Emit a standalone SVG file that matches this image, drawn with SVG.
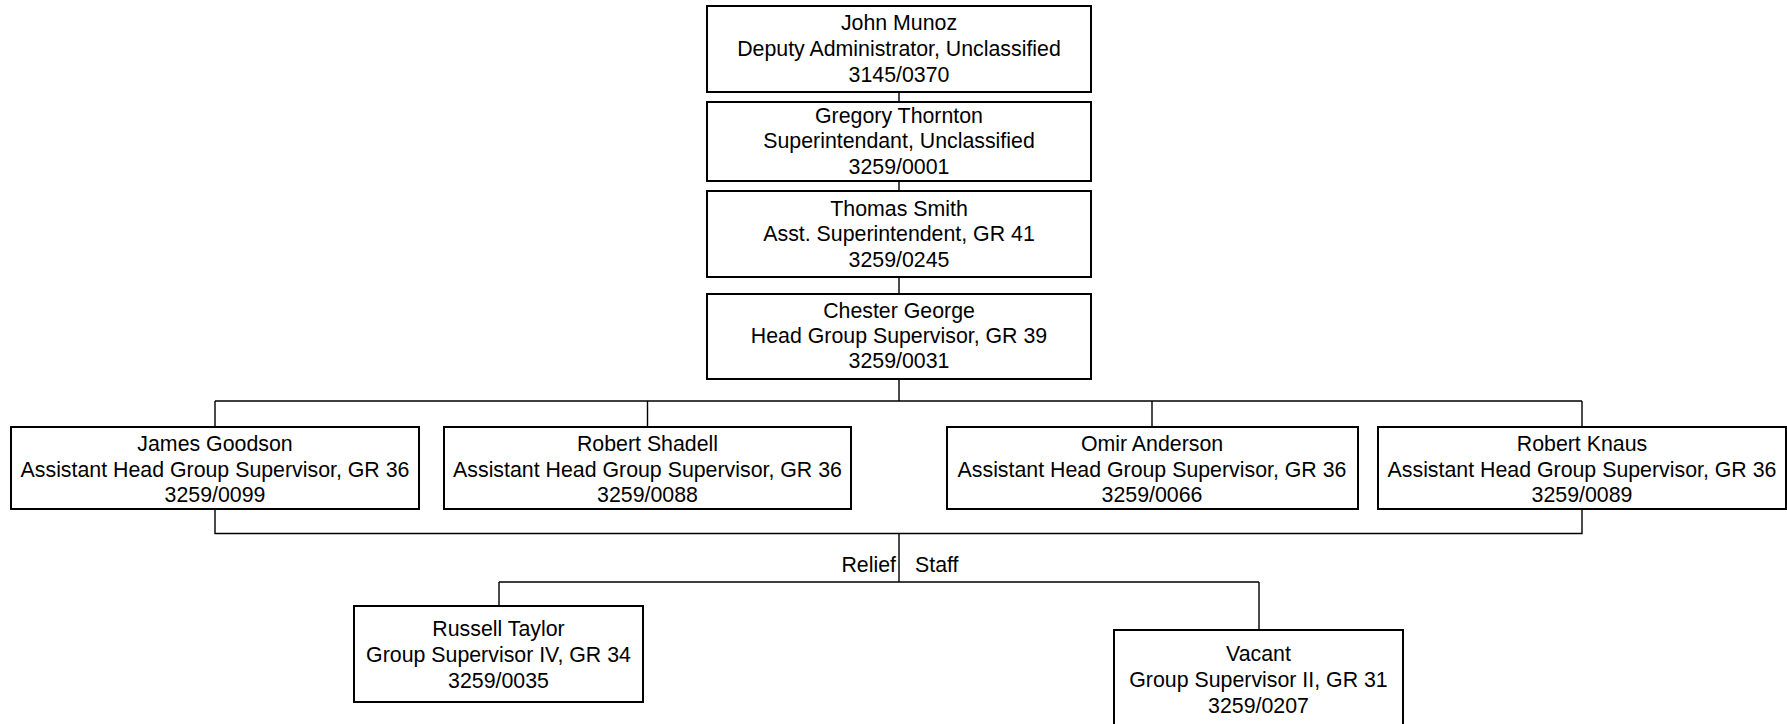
<svg xmlns="http://www.w3.org/2000/svg" width="1787" height="724" viewBox="0 0 1787 724">
<style>
.box{fill:#fff;stroke:#000;stroke-width:2}
.c{fill:none;stroke:#000;stroke-width:1.4}
text{font-family:"Liberation Sans",Arial,sans-serif;font-size:21.33px;fill:#000;text-anchor:middle}
.l{text-anchor:end}
.s{text-anchor:start}
</style>
<rect width="1787" height="724" fill="#fff"/>
<g id="connectors">
<path class="c" d="M899 92V102M899 181V191M899 277V294M899 379V401M215 401H1582M215 401V427M647.5 401V427M1152 401V427M1582 401V427"/>
<path class="c" d="M215 509V533.5H1582V509M899 533.5V582M499 582H1259M499 582V606M1259 582V630"/>
<text class="l" x="896" y="572">Relief</text>
<text class="s" x="915" y="572">Staff</text>
</g>
<g id="john-munoz">
<rect class="box" x="707" y="6" width="384" height="86"/>
<text x="899" y="30">John Munoz</text>
<text x="899" y="56">Deputy Administrator, Unclassified</text>
<text x="899" y="82">3145/0370</text>
</g>
<g id="gregory-thornton">
<rect class="box" x="707" y="102" width="384" height="79"/>
<text x="899" y="123">Gregory Thornton</text>
<text x="899" y="148">Superintendant, Unclassified</text>
<text x="899" y="174">3259/0001</text>
</g>
<g id="thomas-smith">
<rect class="box" x="707" y="191" width="384" height="86"/>
<text x="899" y="216">Thomas Smith</text>
<text x="899" y="241">Asst. Superintendent, GR 41</text>
<text x="899" y="267">3259/0245</text>
</g>
<g id="chester-george">
<rect class="box" x="707" y="294" width="384" height="85"/>
<text x="899" y="318">Chester George</text>
<text x="899" y="343">Head Group Supervisor, GR 39</text>
<text x="899" y="368">3259/0031</text>
</g>
<g id="james-goodson">
<rect class="box" x="11" y="427" width="408" height="82"/>
<text x="215" y="451">James Goodson</text>
<text x="215" y="477">Assistant Head Group Supervisor, GR 36</text>
<text x="215" y="502">3259/0099</text>
</g>
<g id="robert-shadell">
<rect class="box" x="444" y="427" width="407" height="82"/>
<text x="647.5" y="451">Robert Shadell</text>
<text x="647.5" y="477">Assistant Head Group Supervisor, GR 36</text>
<text x="647.5" y="502">3259/0088</text>
</g>
<g id="omir-anderson">
<rect class="box" x="947" y="427" width="411" height="82"/>
<text x="1152" y="451">Omir Anderson</text>
<text x="1152" y="477">Assistant Head Group Supervisor, GR 36</text>
<text x="1152" y="502">3259/0066</text>
</g>
<g id="robert-knaus">
<rect class="box" x="1378" y="427" width="408" height="82"/>
<text x="1582" y="451">Robert Knaus</text>
<text x="1582" y="477">Assistant Head Group Supervisor, GR 36</text>
<text x="1582" y="502">3259/0089</text>
</g>
<g id="russell-taylor">
<rect class="box" x="354" y="606" width="289" height="96"/>
<text x="498.5" y="636">Russell Taylor</text>
<text x="498.5" y="662">Group Supervisor IV, GR 34</text>
<text x="498.5" y="688">3259/0035</text>
</g>
<g id="vacant">
<rect class="box" x="1114" y="630" width="289" height="97"/>
<text x="1258.5" y="660.5">Vacant</text>
<text x="1258.5" y="686.5">Group Supervisor II, GR 31</text>
<text x="1258.5" y="712.5">3259/0207</text>
</g>
</svg>
